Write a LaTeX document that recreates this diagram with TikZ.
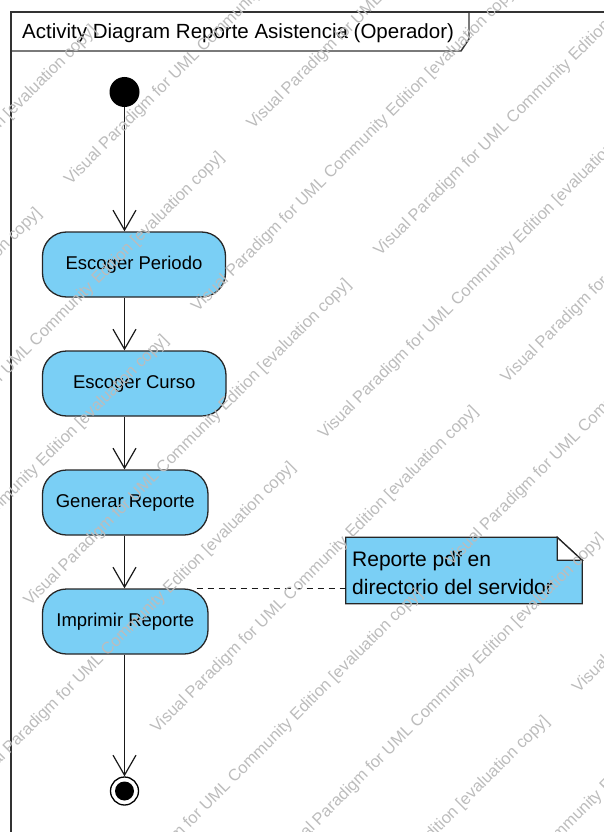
\documentclass[tikz,border=0pt]{standalone}
\usepackage{fontspec}
\setmainfont{Liberation Sans}
\usetikzlibrary{arrows.meta,calc}

\definecolor{actfill}{RGB}{122,207,245}
\definecolor{framegray}{RGB}{50,50,50}
\definecolor{wmgray}{RGB}{188,188,188}

\tikzset{
  frameline/.style={draw=framegray, line width=1.4pt},
  action/.style={draw=black!85, line width=1.3pt, fill=actfill,
    rounded corners=24pt, minimum height=65pt, inner sep=0pt,
    font=\fontsize{18.5}{22}\selectfont},
  flow/.style={draw=black!90, line width=1.2pt,
    -{Straight Barb[length=20pt,width=23pt,line width=1.2pt]}},
  startdot/.style={circle, fill=black, minimum size=30pt, inner sep=0pt},
  enddot/.style={circle, draw=black, line width=1.3pt, fill=white,
    minimum size=28pt, inner sep=0pt},
  notebox/.style={minimum width=236pt, minimum height=66pt, inner sep=0pt},
  notetxt/.style={anchor=base west, inner sep=0pt, font=\fontsize{21}{27}\selectfont},
  anchorlink/.style={draw=black!90, line width=1.2pt, dash pattern=on 6pt off 5pt},
  wm/.style={anchor=base west, inner sep=0pt, rotate=45, text=wmgray,
    font=\fontsize{16.5}{18}\selectfont}
}

\begin{document}
\begin{tikzpicture}[x=1pt,y=-1pt]
\useasboundingbox (0,0) rectangle (603,832);

% diagram frame and its name tab
\draw[frameline] (11,840) -- (11,12) -- (610,12);
\draw[frameline] (11,51) -- (461,51) -- (469,39) -- (469,12);
\node[anchor=base west, inner sep=0pt, font=\fontsize{20.5}{24}\selectfont]
  (title) at (22,39) {Activity Diagram Reporte Asistencia (Operador)};

% activity nodes
\node[startdot] (init) at (124.5,92) {};
\node[action, minimum width=183pt] (periodo) at (134,264.5) {Escoger Periodo};
\node[action, minimum width=183.5pt] (curso) at (134.25,383.5) {Escoger Curso};
\node[action, minimum width=165.5pt] (generar) at (125.25,502.5) {Generar Reporte};
\node[action, minimum width=165.5pt] (imprimir) at (125.25,621.5) {Imprimir Reporte};
\node[enddot] (final) at (124.5,791) {};
\fill[black] (final.center) circle (9.5pt);

% control flows
\draw[flow] (init) -- (init |- periodo.north);
\draw[flow] (periodo.south -| init) -- (curso.north -| init);
\draw[flow] (curso.south -| init) -- (generar.north -| init);
\draw[flow] (generar.south -| init) -- (imprimir.north -| init);
\draw[flow] (imprimir.south -| init) -- (final.north);

% note with folded corner
\node[notebox] (note) at (464,570.5) {};
\draw[draw=black!85, line width=1.3pt, fill=actfill]
  (note.north west) -- ($(note.north east)+(-25,0)$) -- ($(note.north east)+(0,23)$)
  -- (note.south east) -- (note.south west) -- cycle;
\draw[draw=black!85, line width=1.3pt, fill=white, line join=miter]
  ($(note.north east)+(-25,0)$) -- ($(note.north east)+(-25,23)$)
  -- ($(note.north east)+(0,23)$) -- cycle;
\node[notetxt] (noteline1) at (352,566) {Reporte pdf en};
\node[notetxt] (noteline2) at (352,594) {directorio del servidor};

% note attachment
\draw[anchorlink] ($(imprimir.north east)+(-12,0)$) -- (imprimir.north -| note.west);

% evaluation watermark
\begin{scope}
\clip (0,0) rectangle (603,832);
\foreach \s/\p in {129/123,129/-577,256/-115,256/-815,383/123,383/-577,
                   510/-115,510/-815,637/123,637/-577,764/-115,764/-815,
                   891/123,891/-577,1018/-115,1018/-815,1145/123,1145/-577,
                   1272/-115,1272/-815,1399/123,1399/-577}
  \node[wm] at ({(\s+\p)/2},{(\s-\p)/2})
    {Visual Paradigm for UML Community Edition [evaluation copy]};
\end{scope}
\end{tikzpicture}
\end{document}
